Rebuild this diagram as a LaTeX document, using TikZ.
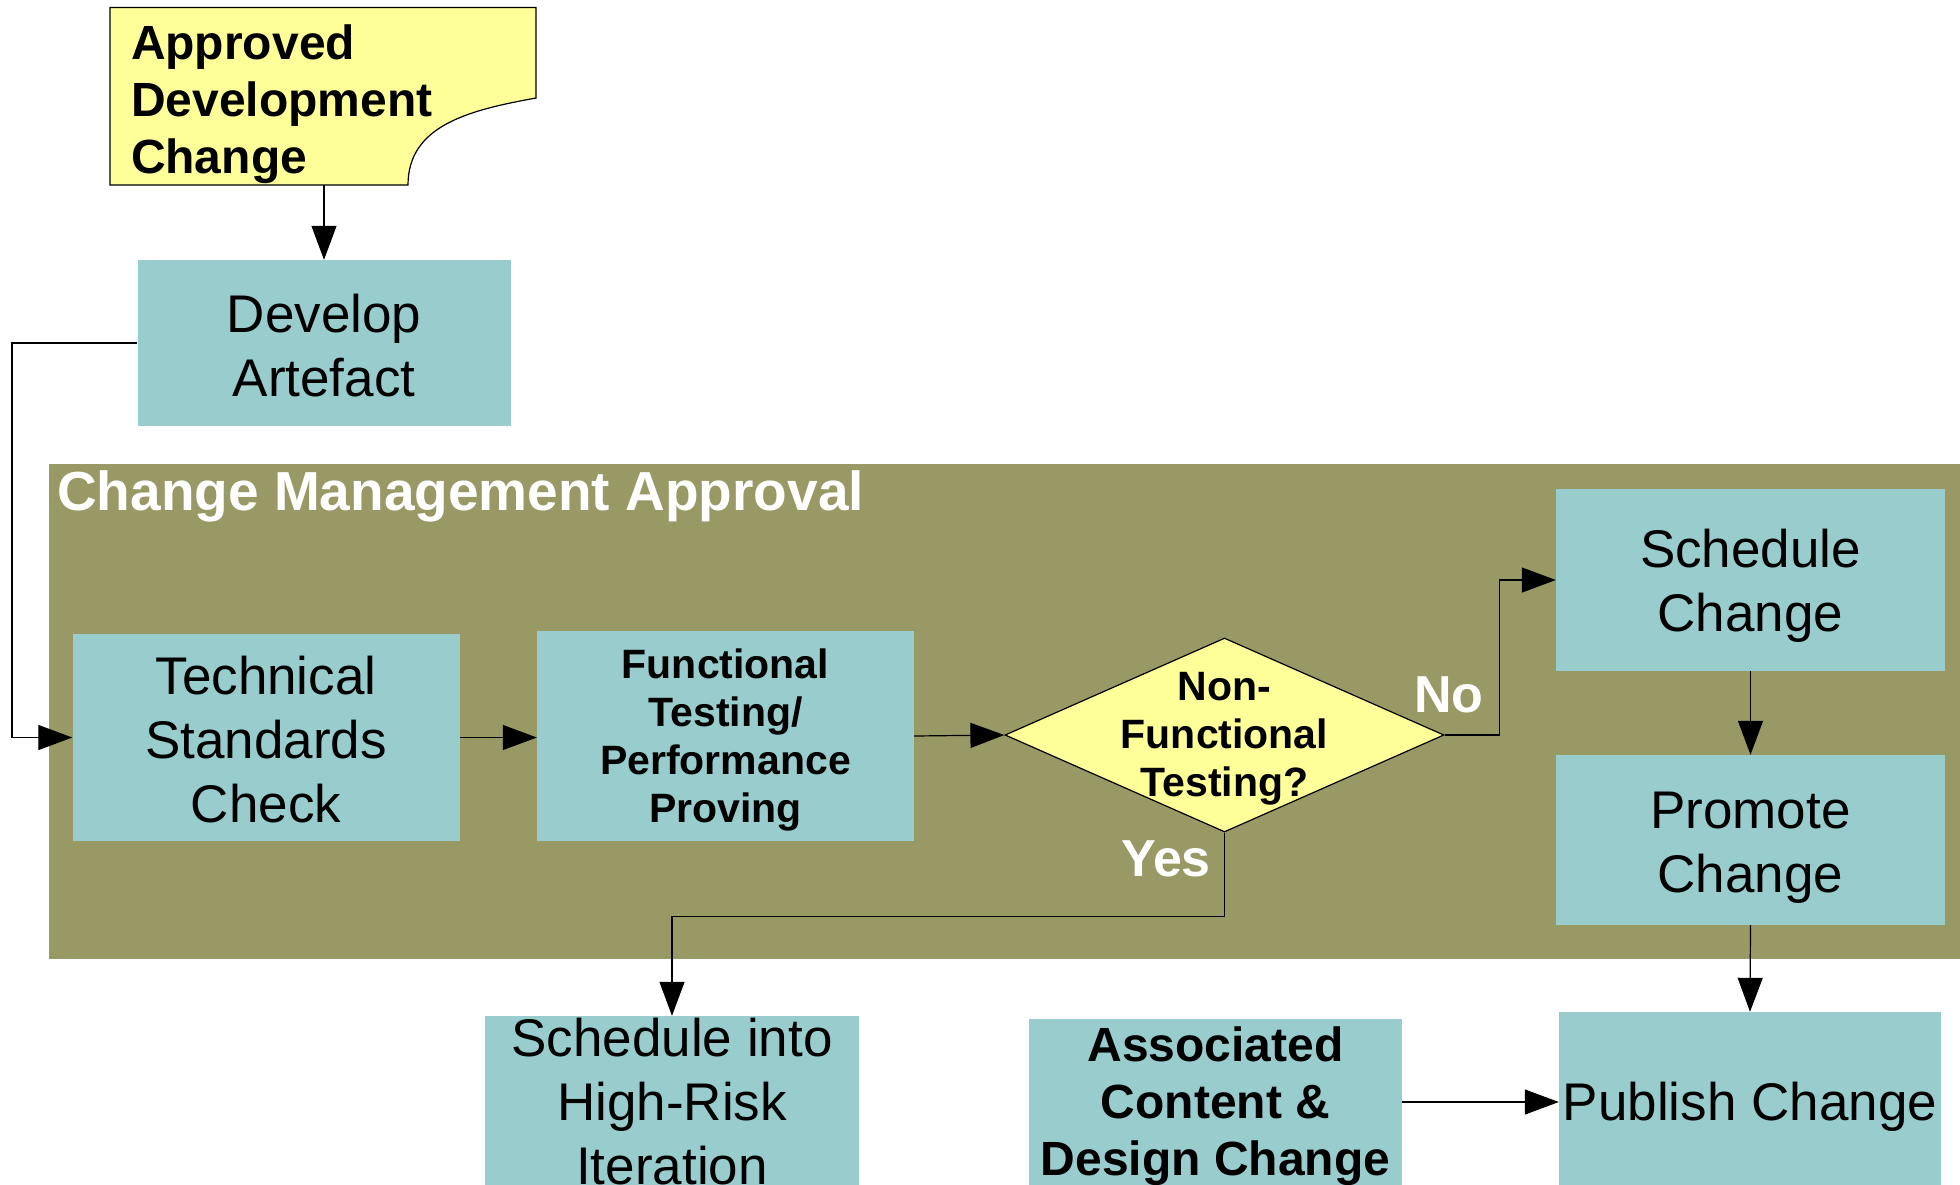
\documentclass[tikz,border=0pt]{standalone}
\usepackage{fontspec}
\setmainfont{Liberation Sans}
\usetikzlibrary{shapes.geometric,arrows.meta}

\definecolor{boxteal}{HTML}{99CCCC}
\definecolor{paneolive}{HTML}{999966}
\definecolor{noteyellow}{HTML}{FFFF99}

\tikzset{
  procbox/.style={fill=boxteal, inner sep=0pt},
  regtext/.style={inner sep=0pt, align=center,
    font=\fontsize{53}{64}\selectfont},
  boldtext/.style={inner sep=0pt, align=center,
    font=\bfseries\fontsize{48}{57}\selectfont},
  testtext/.style={inner sep=0pt, align=center,
    font=\bfseries\fontsize{41}{48}\selectfont},
  conn/.style={draw=black, line width=1.2pt,
    -{Triangle[length=34pt,width=25pt]}},
  branchlbl/.style={text=white, inner sep=0pt,
    font=\bfseries\fontsize{52}{60}\selectfont},
}

\begin{document}
\begin{tikzpicture}[x=1pt,y=-1pt]
\useasboundingbox (0,0) rectangle (1960,1184);
\clip (0,0) rectangle (1960,1184);

% approval panel
\node[fill=paneolive, inner sep=0pt, minimum width=1911pt, minimum height=495pt,
      anchor=north west] (panel) at (49,464) {};
\node[anchor=base west, inner sep=0pt, text=white,
      font=\bfseries\fontsize{55}{60}\selectfont] (paneltitle) at (57,510)
      {Change Management Approval};

% document shape with wavy lower edge
\filldraw[fill=noteyellow, draw=black, line width=1.2pt]
  (110,7.5) -- (536,7.5) -- (536,98)
  .. controls (470,110) and (408,125) .. (408,185)
  -- (110,185) -- cycle;
\coordinate (docbottom) at (323,185);
\node[inner sep=0pt, text width=384pt, align=left,
      font=\bfseries\fontsize{48}{57}\selectfont]
      (doc) at (323,104.5) {Approved\\Development\\Change};

% process boxes
\node[procbox, minimum width=373pt, minimum height=166pt] (dev) at (324,343) {};
\node[regtext, yshift=-2.5pt] (devtxt) at (dev.center) {Develop\\Artefact};

\node[procbox, minimum width=387pt, minimum height=207pt] (tech) at (266,737.5) {};
\node[regtext, yshift=-2.5pt] (techtxt) at (tech.center) {Technical\\Standards\\Check};

\node[procbox, minimum width=377pt, minimum height=210pt] (func) at (725.5,736) {};
\node[testtext, yshift=-4pt] (functxt) at (func.center)
  {Functional\\Testing/\\Performance\\Proving};

\node[diamond, draw=black, fill=noteyellow, line width=1.2pt, inner sep=0pt,
      aspect=2.263, minimum width=439pt, minimum height=194pt] (dia) at (1224.5,735) {};
\node[testtext, yshift=-4pt] (diatxt) at (dia.center) {Non-\\Functional\\Testing?};

\node[procbox, minimum width=389pt, minimum height=182pt] (sched) at (1750.5,580) {};
\node[regtext, yshift=-6pt] (schedtxt) at (sched.center) {Schedule\\Change};

\node[procbox, minimum width=389pt, minimum height=170pt] (prom) at (1750.5,840) {};
\node[regtext, yshift=-7.5pt] (promtxt) at (prom.center) {Promote\\Change};

\node[procbox, minimum width=382pt, minimum height=180pt] (pub) at (1750,1102) {};
\node[regtext, yshift=-5pt] (pubtxt) at (pub.center) {Publish Change};

\node[procbox, minimum width=373pt, minimum height=166pt] (assoc) at (1215.5,1102) {};
\node[boldtext, yshift=-4.5pt] (assoctxt) at (assoc.center)
  {Associated\\Content \&\\Design Change};

\node[procbox, minimum width=374pt, minimum height=172pt] (hr) at (672,1102) {};
\node[regtext] (hrtxt) at (hr.center) {Schedule into\\High-Risk\\Iteration};

% branch labels
\node[branchlbl] (nolbl) at (1449,695) {No};
\node[branchlbl] (yeslbl) at (1166,859) {Yes};

% connectors
\coordinate (leftrail) at (12,0);
\draw[conn] (docbottom -| dev.north) -- (dev.north);
\draw[conn] (dev.west) -- (dev.west -| leftrail) |- (tech.west);
\draw[conn] (tech.east) -- (tech.east -| func.west);
\draw[conn] (func.east) -- (dia.west);
\draw[conn] (dia.east) -- ++(55,0) |- (sched.west);
\draw[conn] (dia.south) -- ++(0,84) -| (hr.north);
\draw[conn] (sched.south) -- (prom.north);
\draw[conn] (prom.south) -- (pub.north);
\draw[conn] (assoc.east) -- (assoc.east -| pub.west);
\end{tikzpicture}
\end{document}
